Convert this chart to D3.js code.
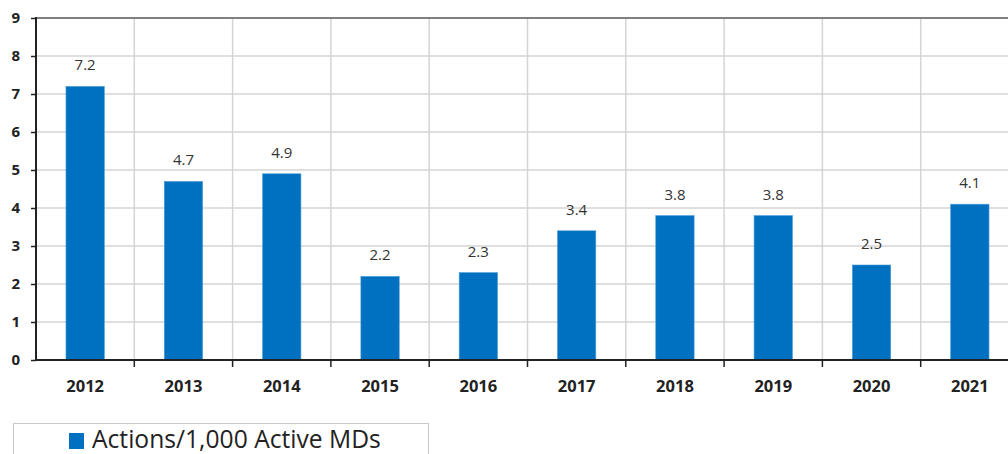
<!DOCTYPE html>
<html>
<head>
<meta charset="utf-8">
<script src="https://cdn.jsdelivr.net/npm/d3@7"></script>
<style>
  body { margin: 0; background: #fff; }
  text { font-family: "Open Sans", "Noto Sans", Arial, sans-serif; }
</style>
</head>
<body>
<div id="chart"></div>
<script>
var years = ["2012", "2013", "2014", "2015", "2016", "2017", "2018", "2019", "2020", "2021"];
var actions = [7.2, 4.7, 4.9, 2.2, 2.3, 3.4, 3.8, 3.8, 2.5, 4.1];
var yTicks = [0, 1, 2, 3, 4, 5, 6, 7, 8, 9];
var seriesName = "Actions/1,000 Active MDs";

var W = 1008, H = 454;
var plotLeft = 36, plotRight = 1019, plotTop = 18, plotBottom = 360;

var svg = d3.select("#chart").append("svg")
    .attr("width", W)
    .attr("height", H);

var x = d3.scaleBand()
    .domain(years)
    .range([plotLeft, plotRight])
    .paddingInner(0.61)
    .paddingOuter(0.305);

var xGrid = d3.scaleBand().domain(years).range([plotLeft, plotRight]);

var y = d3.scaleLinear()
    .domain([0, 9])
    .range([plotBottom, plotTop]);

// horizontal grid
svg.append("g").selectAll("line")
    .data(yTicks.slice(1, -1))
  .enter().append("line")
    .attr("x1", plotLeft).attr("x2", plotRight)
    .attr("y1", function(d) { return y(d); })
    .attr("y2", function(d) { return y(d); })
    .attr("stroke", "#d4d4d4")
    .attr("stroke-width", 1.5);

// vertical grid
svg.append("g").selectAll("line")
    .data(years.slice(1))
  .enter().append("line")
    .attr("x1", function(d) { return xGrid(d); })
    .attr("x2", function(d) { return xGrid(d); })
    .attr("y1", plotTop).attr("y2", plotBottom)
    .attr("stroke", "#d4d4d4")
    .attr("stroke-width", 1.5);

// top border
svg.append("line")
    .attr("x1", plotLeft).attr("x2", plotRight)
    .attr("y1", y(9)).attr("y2", y(9))
    .attr("stroke", "#808080")
    .attr("stroke-width", 2);

// bars
svg.selectAll(".bar")
    .data(actions)
  .enter().append("rect")
    .attr("class", "bar")
    .attr("x", function(d, i) { return x(years[i]); })
    .attr("width", x.bandwidth())
    .attr("y", function(d) { return y(d); })
    .attr("height", function(d) { return y(0) - y(d); })
    .attr("fill", "#0070C0")
    .attr("stroke", "#4a9bd6")
    .attr("stroke-width", 0.6);

// value labels
svg.selectAll(".val")
    .data(actions)
  .enter().append("text")
    .attr("class", "val")
    .attr("x", function(d, i) { return x(years[i]) + x.bandwidth() / 2; })
    .attr("y", function(d) { return y(d) - 16; })
    .attr("text-anchor", "middle")
    .attr("font-size", 15)
    .attr("fill", "#333")
    .text(function(d) { return d.toFixed(1); });

// y axis
var yAxis = svg.append("g")
    .attr("transform", "translate(" + plotLeft + ",0)")
    .call(d3.axisLeft(y).tickValues(yTicks).tickSize(5).tickPadding(11).tickFormat(d3.format("d")));
yAxis.attr("font-family", null).attr("font-size", null);
yAxis.select(".domain").attr("stroke", "#222").attr("stroke-width", 2)
    .attr("d", "M0," + (plotTop - 1) + "V" + plotBottom);
yAxis.selectAll(".tick line").attr("stroke", "#222").attr("stroke-width", 1.5);
yAxis.selectAll(".tick text")
    .style("font-size", "15px")
    .style("font-weight", "bold")
    .attr("fill", "#222");

// x axis
var xAxis = svg.append("g")
    .attr("transform", "translate(0," + plotBottom + ")")
    .call(d3.axisBottom(xGrid).tickSize(0).tickPadding(0));
xAxis.attr("font-family", null).attr("font-size", null);
xAxis.select(".domain").attr("stroke", "#222").attr("stroke-width", 2)
    .attr("d", "M" + plotLeft + ",0H" + plotRight);
xAxis.selectAll(".tick text")
    .attr("y", 0).attr("dy", 32)
    .style("font-size", "16.5px")
    .style("font-weight", "bold")
    .attr("fill", "#222");

svg.append("g").selectAll("line")
    .data(years.slice(1))
  .enter().append("line")
    .attr("x1", function(d) { return xGrid(d); })
    .attr("x2", function(d) { return xGrid(d); })
    .attr("y1", plotBottom).attr("y2", plotBottom + 7)
    .attr("stroke", "#222")
    .attr("stroke-width", 1.5);

// legend
var legend = svg.append("g");
legend.append("rect")
    .attr("x", 13.5).attr("y", 423.5)
    .attr("width", 415).attr("height", 40)
    .attr("fill", "#fff")
    .attr("stroke", "#c8c8c8");
legend.append("rect")
    .attr("x", 69).attr("y", 433)
    .attr("width", 15).attr("height", 16)
    .attr("fill", "#0070C0");
var lt = legend.append("text")
    .attr("x", 92).attr("y", 448)
    .attr("font-size", 22)
    .attr("fill", "#222")
    .text(seriesName);
var w = lt.node().getComputedTextLength();
lt.attr("font-size", 22 * 289 / w);
</script>
</body>
</html>
